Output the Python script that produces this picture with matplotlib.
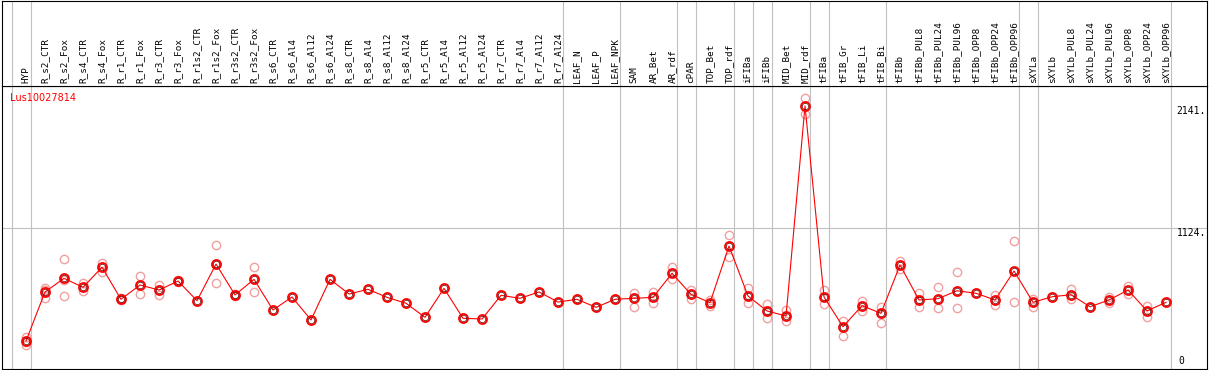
import numpy as np
import matplotlib.pyplot as plt
from matplotlib.transforms import offset_copy

# sample names (one column each)
labels = ["HYP", "R_s2_CTR", "R_s2_Fox", "R_s4_CTR", "R_s4_Fox", "R_r1_CTR", "R_r1_Fox",
          "R_r3_CTR", "R_r3_Fox", "R_r1s2_CTR", "R_r1s2_Fox", "R_r3s2_CTR", "R_r3s2_Fox",
          "R_s6_CTR", "R_s6_Al4", "R_s6_Al12", "R_s6_Al24", "R_s8_CTR", "R_s8_Al4",
          "R_s8_Al12", "R_s8_Al24", "R_r5_CTR", "R_r5_Al4", "R_r5_Al12", "R_r5_Al24",
          "R_r7_CTR", "R_r7_Al4", "R_r7_Al12", "R_r7_Al24", "LEAF_N", "LEAF_P", "LEAF_NPK",
          "SAM", "AR_Bet", "AR_rdf", "cPAR", "TOP_Bet", "TOP_rdf", "iFIBa", "iFIBb",
          "MID_Bet", "MID_rdf", "tFIBa", "tFIB_Gr", "tFIB_Li", "tFIB_Bi", "tFIBb",
          "tFIBb_PUL8", "tFIBb_PUL24", "tFIBb_PUL96", "tFIBb_OPP8", "tFIBb_OPP24",
          "tFIBb_OPP96", "sXYLa", "sXYLb", "sXYLb_PUL8", "sXYLb_PUL24", "sXYLb_PUL96",
          "sXYLb_OPP8", "sXYLb_OPP24", "sXYLb_OPP96"]

# mean expression per sample
means = [187, 595, 708, 634, 800, 534, 653, 611, 686, 522, 827, 570, 700,
         445, 553, 362, 700, 578, 617, 550, 501, 384, 625, 376, 370,
         567, 542, 595, 511, 534, 467, 534,
         542, 550, 750, 575, 506, 977, 561, 437, 395, 2141,
         553, 306, 481, 417, 819, 528, 539, 605, 584, 528, 769,
         509, 555, 572, 472, 528, 611, 437, 509]

# individual replicates
reps = [[220, 179, 154], [628, 542, 615], [866, 561, 697], [672, 605], [838, 763],
        [545, 524], [728, 578], [653, 567], [695, 678], [], [985, 667, 829],
        [578, 562], [802, 595],
        [], [], [], [], [], [], [], [], [], [], [], [], [], [], [], [], [], [], [],
        [584, 472], [592, 506], [802, 700], [614, 539], [528, 478], [1066, 883],
        [625, 501], [495, 381], [445, 351], [2205, 2072],
        [611, 495], [356, 231], [517, 434], [467, 337], [852, 786], [584, 467],
        [634, 459], [758, 459], [], [567, 486], [1016, 509],
        [539, 472], [], [617, 536], [], [555, 506], [644, 578], [478, 384], []]

# first column of each tissue group (separator lines)
groups = [0, 1, 29, 32, 35, 36, 38, 39, 40, 42, 43, 46, 53, 54, 61]

yticks = [0, 1124, 2141]
ytick_labels = ["0", "1124.", "2141."]
gene = "Lus10027814"

W, H = 1209, 370
fig = plt.figure(figsize=(W / 100, H / 100), dpi=100)


def frac(l, t, r, b):
    return [l / W, 1 - b / H, (r - l) / W, (b - t) / H]


ax = fig.add_axes(frac(1.5, 86, 1206.5, 369))
hx = fig.add_axes(frac(1.5, 0.5, 1206.5, 86))

x = np.arange(len(labels))
xlim = (-1.29, 62.13)
grey = "#c0c0c0"

for a in (ax, hx):
    a.set_xlim(*xlim)
    a.set_xticks([])
    a.set_yticks([])
    for s in a.spines.values():
        s.set_color("black")
        s.set_linewidth(0.8)
    for g in groups:
        a.axvline(g - 0.75, color=grey, lw=0.8, zorder=0)

ax.set_ylim(-45.7, 2307.5)
ax.axhline(yticks[1], color=grey, lw=0.8, zorder=0)

for i, r in enumerate(reps):
    if r:
        ax.plot([i] * len(r), r, "o", mfc="none", mec="#f0a0a0", ms=6, mew=1.0, zorder=2)

ax.plot(x, means, "-", color="red", lw=0.8, zorder=3)
ax.plot(x, means, "o", mfc="none", mec="red", ms=6.5, mew=1.3, zorder=4)
ax.plot(x, means, "o", mfc="none", mec="#600000", ms=4.6, mew=0.5, zorder=5)

ax.text(0.007, 1 - 7 / 283, gene, transform=ax.transAxes, color="red",
        fontsize=7, va="top", ha="left")

ytr = ax.get_yaxis_transform()
for v, s in zip(yticks, ytick_labels):
    if v == min(yticks):
        ax.text(0.977, 0, s, transform=offset_copy(ax.transAxes, fig=fig, y=3, units="dots"),
                va="bottom", ha="left", fontsize=7, family="DejaVu Sans Mono")
    else:
        ax.text(0.975, v, s, transform=ytr, va="top", ha="left", fontsize=7,
                family="DejaVu Sans Mono")

hx.set_ylim(86, 0)
for i, lab in enumerate(labels):
    hx.text(i, 83, lab, rotation=90, ha="center", va="bottom", fontsize=6.7,
            family="DejaVu Sans Mono")

fig.savefig("out.png", dpi=100)
